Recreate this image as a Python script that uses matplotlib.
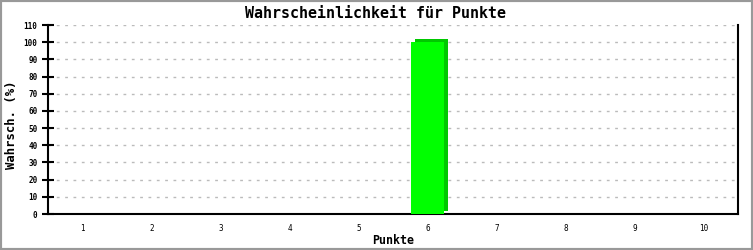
import matplotlib
matplotlib.use("Agg")
import matplotlib.pyplot as plt
import matplotlib.transforms as mtransforms
from matplotlib.patches import Rectangle

# data
punkte = [1, 2, 3, 4, 5, 6, 7, 8, 9, 10]
wahrsch = [0, 0, 0, 0, 0, 100, 0, 0, 0, 0]
yticks = list(range(0, 111, 10))

mono = "DejaVu Sans Mono"

fig = plt.figure(figsize=(7.53, 2.5), dpi=100)
fig.patch.set_facecolor("white")
# grey frame round the picture
fig.patches.append(Rectangle((0, 0), 1, 1, transform=fig.transFigure, fill=False,
                             edgecolor="#999999", linewidth=3, zorder=10))

ax = fig.add_axes([0.0637, 0.144, 0.9163, 0.756])
x = list(range(len(punkte)))

# 3D look: darker copy shifted right/up behind the front face
shift = mtransforms.ScaledTranslation(4 / 100, 3 / 100, fig.dpi_scale_trans)
ax.bar(x, wahrsch, width=0.48, color="#00c800", transform=ax.transData + shift,
       zorder=2, clip_on=False)
ax.bar(x, wahrsch, width=0.48, color="#00ff00", zorder=3)

ax.set_xlim(-0.5, len(punkte) - 0.5)
ax.set_ylim(0, 110)
ax.set_xticks(x)
ax.set_xticklabels([str(p) for p in punkte], fontsize=5.5, family=mono)
ax.set_yticks(yticks)
ax.set_yticklabels([str(v) for v in yticks], fontsize=5.5, family=mono, fontweight="bold")
ax.tick_params(axis="x", length=0, pad=7)
ax.tick_params(axis="y", direction="inout", length=9, width=1.5, pad=3)

ax.grid(axis="y", linestyle=(0, (2, 4)), color="#bbbbbb", linewidth=1)
ax.set_axisbelow(True)
for side in ["left", "bottom", "right"]:
    ax.spines[side].set_linewidth(1.5)
    ax.spines[side].set_color("black")
ax.spines["top"].set_visible(False)

fig.text(375.5 / 753, 1 - 14 / 250, "Wahrscheinlichkeit für Punkte", ha="center",
         va="center", fontsize=10.8, family=mono, fontweight="bold")
fig.text(393 / 753, 1 - 240 / 250, "Punkte", ha="center", va="center",
         fontsize=8.4, family=mono, fontweight="bold")
fig.text(12 / 753, 1 - 125 / 250, "Wahrsch. (%)", ha="center", va="center",
         rotation=90, fontsize=8.8, family=mono, fontweight="bold")

fig.savefig("out.png", dpi=100)
